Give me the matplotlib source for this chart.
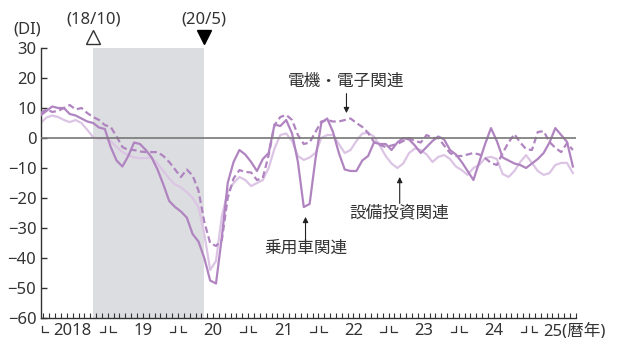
import numpy as np
import matplotlib.pyplot as plt
from matplotlib.transforms import blended_transform_factory

plt.rcParams['font.family'] = ['Noto Sans', 'Noto Sans CJK JP']
plt.rcParams['font.size'] = 12

# month index 0 = 2018/1 ... 91 = 2025/8
years = ['2018', '19', '20', '21', '22', '23', '24']
last_year = '25'
shade_start, shade_end = 9, 28   # 2018/10 - 2020/5

# 乗用車関連 (solid)
car = [7.5, 9, 10.5, 10, 10, 8, 7.5, 6.5, 5.5, 5,
       3.5, 3, -3, -7.5, -9.5, -6, -1.5, -2, -4, -6.5,
       -10.5, -15.5, -21, -23, -24.5, -26.5, -32, -34.5, -40, -47.5,
       -48.5, -33, -15, -8, -4, -5.5, -8, -11, -7, -5,
       4.5, 4, 6, 1.5, -8, -23, -22, -7, 5, 6.5,
       2, -5, -10.5, -11, -11, -7.5, -6, -1.5, -2, -2,
       -4, -1.5, 0, -0.5, -2.5, -5, -3, -1, 0.5, -0.5,
       -4, -5.5, -8, -11, -14, -8, -2, 3.3, -1, -6.5,
       -7.5, -8.5, -9, -10, -8.5, -7, -5, -1.5, 3.3, 1,
       -1.3, -9.5]

# 電機・電子関連 (dashed)
elec = [8.3, 9.5, 8.7, 9, 10, 11, 9.5, 10, 8.3, 7,
        6, 4.3, 3.7, 0.5, -3, -4, -4, -4.5, -4.7, -4.7,
        -4.7, -6, -8, -10.5, -13, -10.5, -12.5, -17.5, -28, -35,
        -36, -34, -20, -13.5, -10.7, -11.3, -11.5, -14, -13.3, -5.7,
        4.3, 7, 7.7, 6, 1, -2, -1.5, 2, 5.5, 6,
        5.5, 5.5, 6, 6.5, 5, 3.7, 1.7, -1.3, -2.3, -3,
        -2.5, -2, -1, 0, -1, -1.5, 1, 0, 0, -2.5,
        -5, -6, -6, -5.5, -5, -5.5, -6.7, -8.3, -9, -5,
        -1.5, 1.3, -1.5, -3.7, -4, 2, 2.3, -1.3, -3.3, -4.7,
        -1.7, -4]

# 設備投資関連 (light)
capex = [5, 6.8, 7.5, 7, 6, 5.3, 6, 5, 2.7, 0.3,
         -0.3, 0, -1, -3, -4.7, -5.7, -6.5, -6.7, -6.7, -6.5,
         -8.5, -11, -13.5, -15.5, -16.5, -18, -20, -23, -32, -44,
         -41, -26, -18, -15, -13, -14, -16, -15, -14, -10,
         -3.5, 1, 1.5, -1, -6, -7.3, -6.5, -5, 0, 1,
         1, -2, -5, -4, -1, 1.5, 1.7, 0.5, -2.5, -6,
         -8.5, -10, -8.5, -5, -3.5, -4, -5.5, -8, -6.3, -5.7,
         -7, -9.5, -10.7, -12.3, -10, -9, -6.7, -6.3, -7, -12,
         -13, -11, -8, -5.7, -8.3, -11, -12.3, -11.7, -9, -8.3,
         -8.3, -11.7]

months = np.arange(len(car))
dark = '#333333'
purple = '#b084c0'
light = '#dcc4e4'

fig = plt.figure(figsize=(6.19, 3.38), dpi=100)
ax = fig.add_axes([40.5 / 619, 20 / 338, 535.3 / 619, 270 / 338])

ax.axvspan(shade_start, shade_end, color='#dcdde0', lw=0, zorder=0)
ax.plot(months, capex, color=light, lw=1.6, zorder=2)
ax.plot(months, elec, color=purple, lw=1.6, ls=(0, (3, 1.6)), zorder=3)
ax.plot(months, car, color=purple, lw=1.6, zorder=4)
ax.axhline(0, color='#777777', lw=1.2, zorder=5)

ax.set_xlim(0, 91.5)
ax.set_ylim(-60, 30)
ax.set_yticks(range(-60, 31, 10))
ax.set_xticks([])
ax.set_xticks(np.arange(0.5, 92, 1), minor=True)
ax.tick_params(axis='y', direction='in', length=4, width=1, color=dark,
               labelcolor=dark, labelsize=12, pad=3)
ax.tick_params(axis='x', which='minor', direction='in', length=3.5, width=0.8,
               color=dark)
for s in ['top', 'right']:
    ax.spines[s].set_visible(False)
for s in ['left', 'bottom']:
    ax.spines[s].set_color(dark)
    ax.spines[s].set_linewidth(1)

# year labels and bracket marks below the axis
tr = blended_transform_factory(ax.transData, ax.transAxes)
ybase = -0.063
for i, y in enumerate(years):
    ax.text(12 * i + 5.5, ybase, y, transform=tr, ha='center', va='baseline',
            color=dark, fontsize=12)
ax.text(86.0, ybase, last_year + '(暦年)', transform=tr, ha='left',
        va='baseline', color=dark, fontsize=12)
yb, yt = -0.050, -0.028
ax.plot([0.3, 0.3, 1.3], [yt, yb, yb], transform=tr, color=dark, lw=0.9,
        clip_on=False)
for i in range(1, 8):
    b = 12 * i - 0.5
    ax.plot([b - 1.4, b - 0.45, b - 0.45], [yb, yb, yt], transform=tr,
            color=dark, lw=0.9, clip_on=False)
    ax.plot([b + 0.45, b + 0.45, b + 1.4], [yt, yb, yb], transform=tr,
            color=dark, lw=0.9, clip_on=False)

# turning point markers
ax.text(shade_start, 1.107, '(18/10)', transform=tr, ha='center', va='center',
        color=dark, fontsize=12)
ax.text(shade_end, 1.107, '(20/5)', transform=tr, ha='center', va='center',
        color=dark, fontsize=12)
ax.plot([shade_start], [1.039], transform=tr, marker='^', ms=10, mfc='white',
        mec=dark, mew=1, clip_on=False)
ax.plot([shade_end], [1.039], transform=tr, marker='v', ms=10, mfc='black',
        mec='black', clip_on=False)

fig.text(27 / 619, 1 - 30 / 338, '(DI)', ha='center', va='center',
         color=dark, fontsize=12)

# series labels
arrow = dict(arrowstyle='-|>', color='#222222', lw=0.8, mutation_scale=8,
             shrinkA=0, shrinkB=0)
ax.text(52.3, 18.7, '電機・電子関連', ha='center', va='center', color=dark,
        fontsize=12)
ax.annotate('', xy=(52.3, 8.3), xytext=(52.3, 14.8), arrowprops=arrow)
ax.text(45.3, -36.8, '乗用車関連', ha='center', va='center', color=dark,
        fontsize=12)
ax.annotate('', xy=(45.3, -26.3), xytext=(45.3, -34.2), arrowprops=arrow)
ax.text(61.4, -25.3, '設備投資関連', ha='center', va='center', color=dark,
        fontsize=12)
ax.annotate('', xy=(61.4, -13.0), xytext=(61.4, -21.8), arrowprops=arrow)

fig.savefig('out.png', dpi=100)
